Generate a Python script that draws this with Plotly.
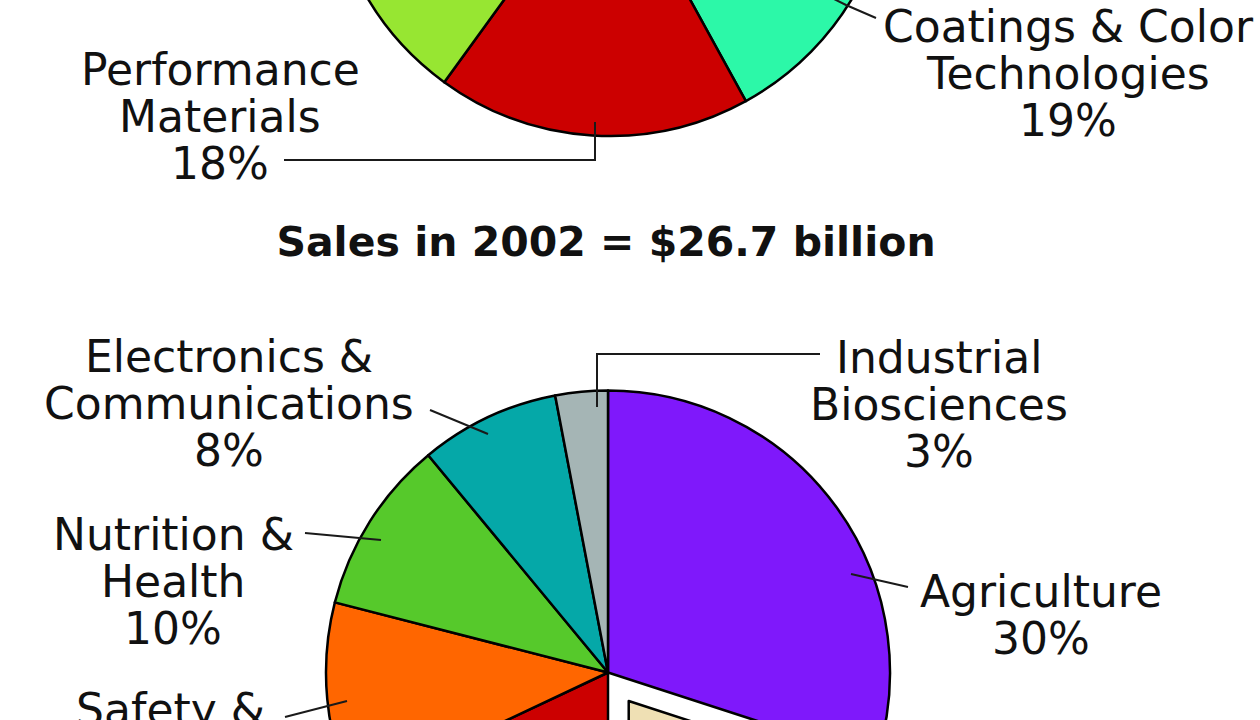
import plotly.graph_objects as go

# ---------------- data ----------------
# upper pie (only its lower part is visible in the frame)
top_labels = ["Textiles & Interiors", "Coatings & Color Technologies", "Performance Materials",
              "Agriculture & Nutrition", "Safety & Protection",
              "Electronic & Communication Technologies", "Other"]
top_values = [23, 19, 18, 17, 12, 10, 1]
top_colors = ["#c9a0ff", "#2cf8a8", "#cc0000", "#97e632", "#ff6600", "#05a8a8", "#a5b5b5"]

# lower pie
bottom_title = "Sales in 2002 = $26.7 billion"
bottom_labels = ["Agriculture", "Performance Chemicals", "Performance Materials",
                 "Safety & Protection", "Nutrition & Health",
                 "Electronics & Communications", "Industrial Biosciences"]
bottom_values = [30, 20, 18, 11, 10, 8, 3]
bottom_pull = [0, 0.125, 0, 0, 0, 0, 0]
bottom_colors = ["#7f18fb", "#efe0b4", "#cc0000", "#ff6600", "#56c92b", "#05a8a8", "#a5b5b5"]

# label line breaks (name lines; percentage appended from the values)
top_label_lines = {
    "Performance Materials": ["Performance", "Materials"],
    "Coatings & Color Technologies": ["Coatings & Color", "Technologies"],
}
bottom_label_lines = {
    "Electronics & Communications": ["Electronics &", "Communications"],
    "Industrial Biosciences": ["Industrial", "Biosciences"],
    "Nutrition & Health": ["Nutrition &", "Health"],
    "Agriculture": ["Agriculture"],
    "Safety & Protection": ["Safety &", "Protection"],
}

# ---------------- layout geometry (page pixels) ----------------
W, H, D = 1260, 1430, 430          # figure width/height, page offset hiding the top
R = 282                            # pie radius in px
TOP_C = (610, -146)
BOT_C = (608, 672.5)

def px(x):
    return x / W

def py(y):
    return (H - (D + y)) / H

def domain(c, half):
    return dict(x=[px(c[0] - half), px(c[0] + half)],
                y=[py(c[1] + half), py(c[1] - half)])

line_style = dict(color="#1a1a1a", width=2)
pie_line = dict(color="#000000", width=2.5)

fig = go.Figure()
fig.add_trace(go.Pie(
    labels=top_labels, values=top_values, sort=False, direction="clockwise", rotation=0,
    marker=dict(colors=top_colors, line=pie_line), textinfo="none",
    domain=domain(TOP_C, R), showlegend=False, hoverinfo="label+percent"))
fig.add_trace(go.Pie(
    labels=bottom_labels, values=bottom_values, sort=False, direction="clockwise", rotation=0,
    pull=bottom_pull,
    marker=dict(colors=bottom_colors, line=pie_line), textinfo="none",
    domain=domain(BOT_C, R * (1 + max(bottom_pull))), showlegend=False,
    hoverinfo="label+percent"))

# label positions: (center x, first baseline y)
label_pos = {
    "Performance Materials": (220, 85),
    "Coatings & Color Technologies": (1068, 42),
    "Electronics & Communications": (229, 372),
    "Industrial Biosciences": (939, 373),
    "Nutrition & Health": (173, 550),
    "Agriculture": (1041, 607),
    "Safety & Protection": (170, 725),
}
FS = 44
LS = 47
annotations = []

def add_label(name, lines, value):
    cx, by = label_pos[name]
    for i, t in enumerate(lines + [f"{value}%"]):
        b = by + i * LS
        annotations.append(dict(
            text=t, x=px(cx), y=py(b - 0.346 * FS), xref="paper", yref="paper",
            xanchor="center", yanchor="middle", showarrow=False,
            font=dict(family="DejaVu Sans", size=FS, color="#111111")))

for lab, val in zip(top_labels, top_values):
    if lab in top_label_lines:
        add_label(lab, top_label_lines[lab], val)
for lab, val in zip(bottom_labels, bottom_values):
    if lab in bottom_label_lines:
        add_label(lab, bottom_label_lines[lab], val)

# leader lines (page pixels)
leaders = [
    [(284, 160), (595, 160), (595, 122)],
    [(876, 18), (846, 5), (832, -2)],
    [(430, 410), (488, 434)],
    [(820, 354), (597, 354), (597, 407)],
    [(305, 533), (381, 540)],
    [(908, 587), (851, 574)],
    [(285, 717), (347, 701)],
]
shapes = []
for pts in leaders:
    path = "M " + " L ".join(f"{px(x):.5f},{py(y):.5f}" for x, y in pts)
    shapes.append(dict(type="path", path=path, xref="paper", yref="paper",
                       line=line_style, layer="above"))

fig.update_layout(
    width=W, height=H,
    margin=dict(l=0, r=0, t=0, b=0),
    paper_bgcolor="white", plot_bgcolor="white",
    title=dict(text=f"<b>{bottom_title}</b>", x=606 / W, xanchor="center",
               xref="container", yref="container",
               y=py(256 - 0.35 * 41), yanchor="middle",
               font=dict(family="DejaVu Sans", size=41, color="#111111")),
    annotations=annotations, shapes=shapes,
)

post = ("var gd=document.getElementById('{plot_id}');"
        "gd.style.marginTop='-%dpx';"
        "document.body.style.margin='0';"
        "document.body.style.overflow='hidden';"
        "document.documentElement.style.overflow='hidden';" % D)
fig.write_html("out.html", config={"displayModeBar": False}, post_script=post)
